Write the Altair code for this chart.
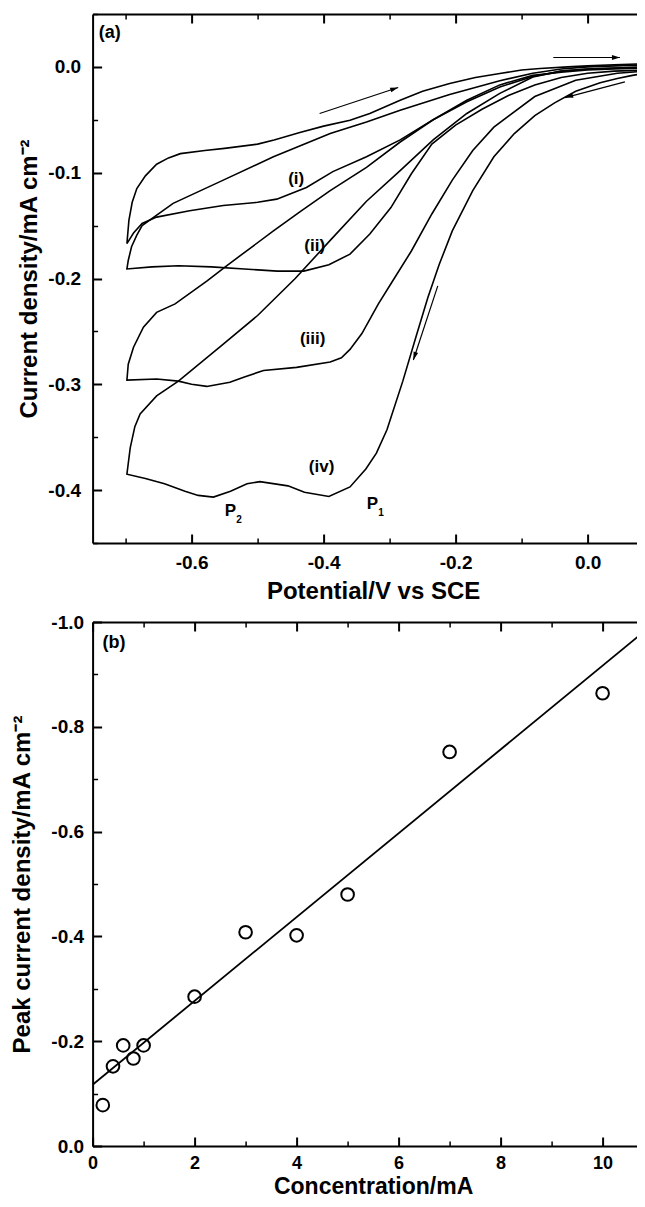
import math
import altair as alt
import pandas as pd

FONT = "Liberation Sans"

# ---------------- Panel (a): cyclic voltammograms ----------------
# each curve: cathodic scan (right -> left) then anodic scan (left -> right)
i_cat_V = [0.087, 0.04, 0.0, -0.04, -0.083, -0.133, -0.183, -0.234, -0.284, -0.335, -0.386, -0.426,
           -0.471, -0.50, -0.552, -0.603, -0.653, -0.675, -0.688, -0.698]
i_cat_I = [-0.001, -0.002, -0.003, -0.005, -0.008, -0.017, -0.0315, -0.050, -0.069, -0.085, -0.099, -0.114,
           -0.125, -0.128, -0.131, -0.136, -0.142, -0.148, -0.157, -0.167]
i_ano_V = [-0.698, -0.695, -0.69, -0.683, -0.67, -0.653, -0.635, -0.617, -0.58, -0.55, -0.50, -0.475, -0.436,
           -0.40, -0.36, -0.33, -0.284, -0.25, -0.209, -0.17, -0.133, -0.10, -0.072, -0.03, 0.0, 0.04, 0.087]
i_ano_I = [-0.167, -0.145, -0.128, -0.115, -0.103, -0.092, -0.086, -0.082, -0.079, -0.077, -0.073, -0.069, -0.062,
           -0.056, -0.0505, -0.044, -0.0315, -0.023, -0.0157, -0.010, -0.0063, -0.003, -0.0015, 0.0, 0.001, 0.002, 0.003]

ii_cat_V = [0.087, 0.04, 0.0, -0.04, -0.08, -0.12, -0.16, -0.20, -0.236, -0.267, -0.298, -0.33, -0.36, -0.392,
            -0.43, -0.47, -0.52, -0.57, -0.62, -0.66, -0.698]
ii_cat_I = [-0.003, -0.004, -0.006, -0.010, -0.017, -0.027, -0.040, -0.055, -0.073, -0.101, -0.133, -0.158, -0.177,
            -0.187, -0.193, -0.193, -0.191, -0.189, -0.188, -0.189, -0.191]
ii_ano_V = [-0.698, -0.696, -0.691, -0.683, -0.675, -0.628, -0.552, -0.476, -0.39, -0.335, -0.284, -0.209, -0.133,
            -0.083, -0.04, 0.0, 0.087]
ii_ano_I = [-0.191, -0.183, -0.170, -0.159, -0.150, -0.129, -0.107, -0.085, -0.063, -0.052, -0.041, -0.026, -0.013,
            -0.006, -0.002, 0.0, 0.002]

iii_cat_V = [0.087, 0.045, -0.018, -0.08, -0.142, -0.174, -0.205, -0.236, -0.267, -0.298, -0.317, -0.342, -0.36,
             -0.373, -0.39, -0.441, -0.491, -0.52, -0.542, -0.577, -0.60, -0.62, -0.653, -0.698]
iii_cat_I = [-0.004, -0.006, -0.0126, -0.028, -0.057, -0.079, -0.107, -0.139, -0.174, -0.205, -0.224, -0.252, -0.267,
             -0.275, -0.279, -0.284, -0.287, -0.293, -0.298, -0.302, -0.300, -0.297, -0.295, -0.296]
iii_ano_V = [-0.698, -0.696, -0.688, -0.673, -0.653, -0.625, -0.577, -0.547, -0.476, -0.436, -0.39, -0.335, -0.284,
             -0.234, -0.183, -0.133, -0.083, -0.04, 0.0, 0.087]
iii_ano_I = [-0.296, -0.281, -0.265, -0.246, -0.232, -0.224, -0.2025, -0.188, -0.155, -0.137, -0.117, -0.095, -0.071,
             -0.050, -0.033, -0.019, -0.009, -0.004, -0.002, 0.0]

iv_cat_V = [0.087, 0.068, 0.045, 0.019, -0.018, -0.05, -0.08, -0.111, -0.142, -0.174, -0.205, -0.225, -0.242, -0.26,
            -0.28, -0.304, -0.32, -0.336, -0.36, -0.392, -0.429, -0.454, -0.4965, -0.516, -0.541, -0.567, -0.59,
            -0.61, -0.641, -0.67, -0.698]
iv_cat_I = [-0.006, -0.008, -0.011, -0.015, -0.023, -0.034, -0.046, -0.063, -0.085, -0.117, -0.155, -0.187, -0.218,
            -0.255, -0.297, -0.343, -0.365, -0.380, -0.397, -0.406, -0.402, -0.396, -0.392, -0.394, -0.401, -0.4066,
            -0.405, -0.401, -0.394, -0.389, -0.385]
iv_ano_V = [-0.698, -0.693, -0.686, -0.678, -0.653, -0.62, -0.552, -0.50, -0.443, -0.39, -0.335, -0.284, -0.234,
            -0.183, -0.133, -0.083, -0.04, 0.0, 0.087]
iv_ano_I = [-0.385, -0.36, -0.34, -0.328, -0.311, -0.297, -0.262, -0.235, -0.200, -0.164, -0.127, -0.098, -0.069,
            -0.044, -0.025, -0.0095, -0.004, -0.002, 0.0]

curve_labels = ["(i)", "(ii)", "(iii)", "(iv)"]
curve_label_V = [-0.4415, -0.4135, -0.4165, -0.403]
curve_label_I = [-0.1057, -0.169, -0.257, -0.378]

peak_text = ["P", "P"]
peak_sub = ["1", "2"]
peak_V = [-0.326, -0.541]
peak_I = [-0.413, -0.420]

arrow_id = ["a1", "a1", "a2", "a2", "a3", "a3", "a4", "a4"]
arrow_V = [-0.406, -0.287, -0.052, 0.049, 0.0565, -0.034, -0.227, -0.264]
arrow_I = [-0.044, -0.0195, 0.0089, 0.0089, -0.0142, -0.029, -0.207, -0.277]

a_xdom = [-0.75, 0.1]
a_ydom = [-0.45, 0.05]
a_xmaj = [-0.6, -0.4, -0.2, 0.0]
a_xmin = [-0.7, -0.5, -0.3, -0.1, 0.1]
a_ymaj = [0.0, -0.1, -0.2, -0.3, -0.4]
a_ymin = [0.05, -0.05, -0.15, -0.25, -0.35, -0.45]

# ---------------- Panel (b): peak current vs concentration ----------------
conc = [0.2, 0.4, 0.6, 0.8, 1.0, 2.0, 3.0, 4.0, 5.0, 7.0, 10.0]
peak = [-0.078, -0.152, -0.192, -0.167, -0.192, -0.285, -0.408, -0.402, -0.480, -0.752, -0.864]
fit_x = [0.0, 10.83]
fit_y = [-0.117, -0.983]

b_xdom = [0.0, 11.0]
b_ydom = [-1.0, 0.0]
b_xmaj = [0, 2, 4, 6, 8, 10]
b_xmin = [1, 3, 5, 7, 9, 11]
b_ymaj = [0.0, -0.2, -0.4, -0.6, -0.8, -1.0]
b_ymin = [-0.1, -0.3, -0.5, -0.7, -0.9]

W = 561
HA = 529
HB = 524

# ---------------- helpers ----------------
LAB = dict(labelFont=FONT, labelFontSize=19, labelFontWeight="bold", labelColor="black",
           labelFlush=False, labelOverlap=False,
           labelExpr="replace(datum.label, '\u2212', '-')")
TIT = dict(titleFont=FONT, titleFontSize=24, titleFontWeight="bold", titleColor="black")


def tick_axis(orient, values, size, width, **extra):
    kw = dict(orient=orient, values=values, offset=-size, tickSize=size, tickWidth=width,
              tickColor="black", domain=False, grid=False)
    if "title" not in extra:
        kw.update(labels=False, title=None)
    kw.update(extra)
    return alt.Axis(**kw)


def dom_axis(orient):
    return alt.Axis(orient=orient, domain=True, domainColor="black", domainWidth=2,
                    ticks=False, labels=False, grid=False, title=None)


def frame(dummy, xs, ys, xmaj, xmin, ymaj, ymin, main_layer):
    base = alt.Chart(dummy).mark_point(opacity=0, size=0, strokeWidth=0)
    layers = [main_layer]
    specs = [
        (tick_axis("bottom", xmin, 5, 1.5), tick_axis("left", ymin, 5, 1.5)),
        (tick_axis("top", xmaj, 9, 2), dom_axis("left")),
        (tick_axis("top", xmin, 5, 1.5), tick_axis("right", ymaj, 9, 2)),
        (dom_axis("bottom"), tick_axis("right", ymin, 5, 1.5)),
        (dom_axis("top"), dom_axis("right")),
    ]
    for xa, ya in specs:
        layers.append(base.encode(
            x=alt.X("x:Q", scale=xs, axis=xa),
            y=alt.Y("y:Q", scale=ys, axis=ya),
        ))
    return layers


# ---------------- panel (a) ----------------
rows = []
for name, cv, ci, av, ai in [
    ("i", i_cat_V, i_cat_I, i_ano_V, i_ano_I),
    ("ii", ii_cat_V, ii_cat_I, ii_ano_V, ii_ano_I),
    ("iii", iii_cat_V, iii_cat_I, iii_ano_V, iii_ano_I),
    ("iv", iv_cat_V, iv_cat_I, iv_ano_V, iv_ano_I),
]:
    for k, (v, c) in enumerate(zip(cv + av, ci + ai)):
        rows.append({"x": v, "y": c, "curve": name, "order": k})
df_a = pd.DataFrame(rows)

xs_a = alt.Scale(domain=a_xdom, nice=False, zero=False)
ys_a = alt.Scale(domain=a_ydom, nice=False, zero=False)

ppx_a = W / (a_xdom[1] - a_xdom[0])
ppy_a = HA / (a_ydom[1] - a_ydom[0])

df_arrow = pd.DataFrame({"x": arrow_V, "y": arrow_I, "arrow": arrow_id})
heads = []
for j in range(0, len(arrow_id), 2):
    dx = (arrow_V[j + 1] - arrow_V[j]) * ppx_a
    dy = -(arrow_I[j + 1] - arrow_I[j]) * ppy_a
    ang = math.degrees(math.atan2(dy, dx)) % 360
    heads.append({"x": arrow_V[j + 1], "y": arrow_I[j + 1], "angle": ang})
df_heads = pd.DataFrame(heads)

df_clab = pd.DataFrame({"x": curve_label_V, "y": curve_label_I, "t": curve_labels})
df_peak = pd.DataFrame({"x": peak_V, "y": peak_I, "t": peak_text, "s": peak_sub})
df_panel_a = pd.DataFrame({"x": [-0.724], "y": [0.0316], "t": ["(a)"]})
dummy_a = pd.DataFrame({"x": a_xdom, "y": a_ydom})

main_a = alt.Chart(df_a).mark_line(color="black", strokeWidth=1.6, clip=True).encode(
    x=alt.X("x:Q", scale=xs_a, axis=tick_axis(
        "bottom", a_xmaj, 9, 2, format=".1f", title="Potential/V vs SCE",
        labelPadding=10.6, titlePadding=7.3, **LAB, **TIT)),
    y=alt.Y("y:Q", scale=ys_a, axis=tick_axis(
        "left", a_ymaj, 9, 2, format=".1f", title="Current density/mA cm\u207b\u00b2",
        labelPadding=12, titlePadding=6.4, **LAB, **TIT)),
    detail="curve:N",
    order=alt.Order("order:Q"),
)

enc_a = dict(x=alt.X("x:Q", scale=xs_a, axis=None), y=alt.Y("y:Q", scale=ys_a, axis=None))

layers_a = frame(dummy_a, xs_a, ys_a, a_xmaj, a_xmin, a_ymaj, a_ymin, main_a)
layers_a += [
    alt.Chart(df_arrow).mark_line(color="black", strokeWidth=1.2).encode(detail="arrow:N", **enc_a),
    alt.Chart(df_heads).mark_point(shape="M-4,-1.2L0,0L-4,1.2Z", size=16, filled=True,
                                   color="black", opacity=1).encode(
        angle=alt.Angle("angle:Q", scale=None), **enc_a),
    alt.Chart(df_clab).mark_text(font=FONT, fontSize=17, fontWeight="bold", color="black").encode(
        text="t:N", **enc_a),
    alt.Chart(df_peak).mark_text(font=FONT, fontSize=17, fontWeight="bold", color="black").encode(
        text="t:N", **enc_a),
    alt.Chart(df_peak).mark_text(font=FONT, fontSize=10, fontWeight="bold", color="black",
                                 dx=8.5, dy=9).encode(text="s:N", **enc_a),
    alt.Chart(df_panel_a).mark_text(font=FONT, fontSize=18, fontWeight="bold", color="black").encode(
        text="t:N", **enc_a),
]
panel_a = alt.layer(*layers_a).resolve_axis(x="independent", y="independent").properties(
    width=W, height=HA)

# ---------------- panel (b) ----------------
xs_b = alt.Scale(domain=b_xdom, nice=False, zero=False)
ys_b = alt.Scale(domain=b_ydom, nice=False, zero=False, reverse=True)

df_pts = pd.DataFrame({"x": conc, "y": peak})
df_fit = pd.DataFrame({"x": fit_x, "y": fit_y})
df_panel_b = pd.DataFrame({"x": [0.42], "y": [-0.959], "t": ["(b)"]})
dummy_b = pd.DataFrame({"x": b_xdom, "y": b_ydom})

LAB_BX = dict(LAB, labelFontSize=18)
TIT_BX = dict(TIT, titleFontSize=23)
main_b = alt.Chart(df_fit).mark_line(color="black", strokeWidth=1.8, clip=True).encode(
    x=alt.X("x:Q", scale=xs_b, axis=tick_axis(
        "bottom", b_xmaj, 9, 2, format="d", title="Concentration/mA",
        labelPadding=8, titlePadding=3.3, **LAB_BX, **TIT_BX)),
    y=alt.Y("y:Q", scale=ys_b, axis=tick_axis(
        "left", b_ymaj, 9, 2, format=".1f", title="Peak current density/mA cm\u207b\u00b2",
        labelPadding=9, titlePadding=16, **LAB, **TIT)),
)

enc_b = dict(x=alt.X("x:Q", scale=xs_b, axis=None), y=alt.Y("y:Q", scale=ys_b, axis=None))
layers_b = frame(dummy_b, xs_b, ys_b, b_xmaj, b_xmin, b_ymaj, b_ymin, main_b)
layers_b += [
    alt.Chart(df_pts).mark_point(shape="circle", size=160, filled=False, color="black",
                                 strokeWidth=2, opacity=1).encode(**enc_b),
    alt.Chart(df_panel_b).mark_text(font=FONT, fontSize=18, fontWeight="bold", color="black").encode(
        text="t:N", **enc_b),
]
panel_b = alt.layer(*layers_b).resolve_axis(x="independent", y="independent").properties(
    width=W, height=HB)

# fixed-size canvas (629 x 1191, so the page keeps its 645 x 1207 size with the
# 8px body margin): the top-level width is the column width (W), the plot origin
# lands at (92.6, 14) on the page and whatever lies beyond the canvas is cut off
CANVAS_W = 629
CANVAS_H = 1191
PAD_L = 84.6
PAD_T = 6
chart = alt.vconcat(panel_a, panel_b, spacing=79, bounds="flush").configure_view(
    stroke=None).properties(
    autosize=alt.AutoSizeParams(type="none"),
    padding={"left": PAD_L, "top": PAD_T, "right": CANVAS_W - PAD_L - W, "bottom": CANVAS_H - PAD_T},
)

chart.save("out.html", embed_options={"renderer": "svg", "actions": False})
